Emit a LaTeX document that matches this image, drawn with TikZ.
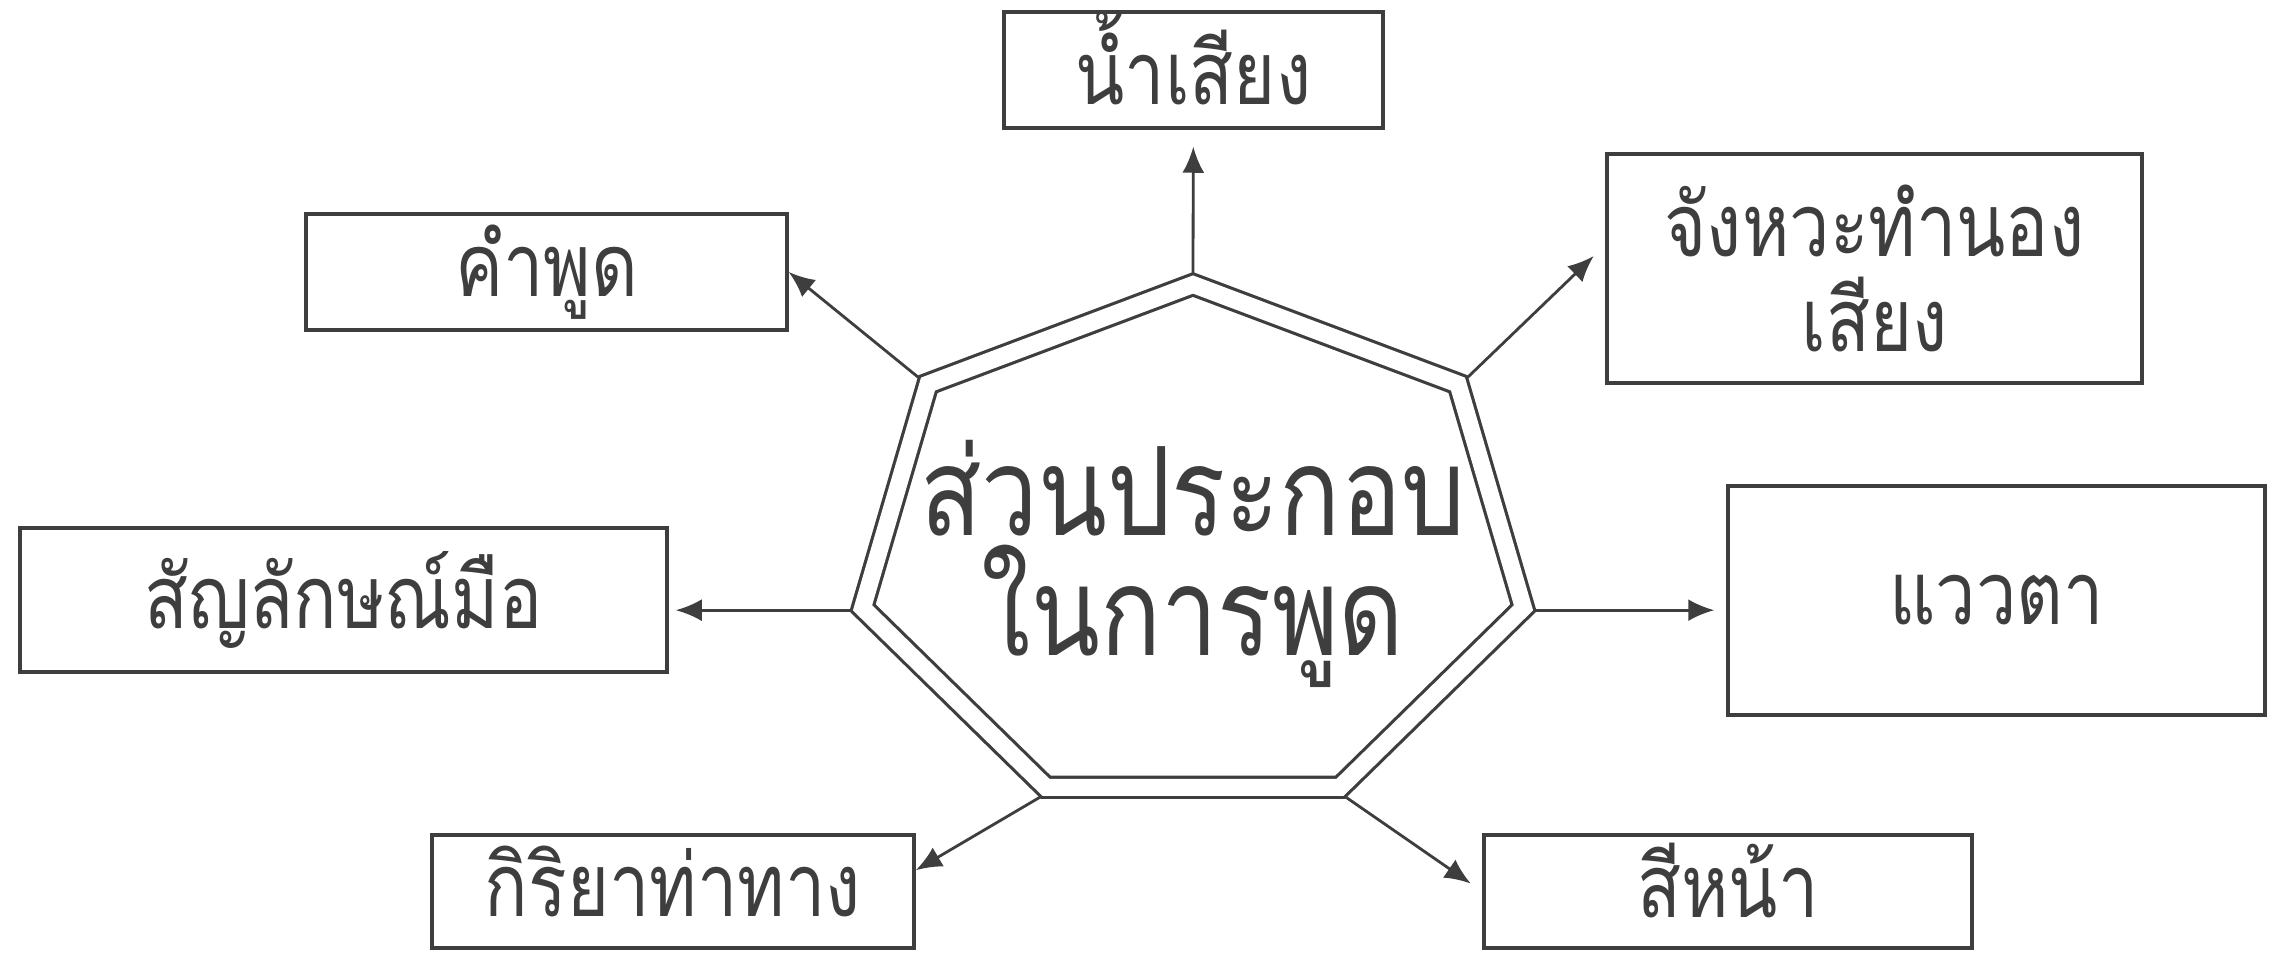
\documentclass[tikz,border=0pt]{standalone}
\usepackage{fontspec}
\newfontfamily\thaifont[Script=Thai, FakeStretch=0.82]{Loma}
\usetikzlibrary{arrows.meta}
\definecolor{inkgray}{RGB}{62,62,62}
\newcommand\liftby[2]{\raisebox{#1}[\height][\depth]{#2}}
\tikzset{
  partbox/.style={draw=inkgray, line width=1pt, inner sep=0pt, align=center,
    text=inkgray, font=\thaifont\fontsize{25}{30}\selectfont},
  link/.style={draw=inkgray, line width=0.8pt, -{Latex[length=2.6mm,width=2.2mm]}}
}

\begin{document}
\begin{tikzpicture}
\useasboundingbox (0,0) rectangle (22.82,-9.53);
% corners of the double heptagon
\foreach \i in {0,...,6}{
  \coordinate (h\i) at ({11.93+3.51*cos(90-\i*360/7)},{-5.49+2.75*sin(90-\i*360/7)});
  \coordinate (m\i) at ({11.93+3.39*cos(90-\i*360/7)},{-5.49+2.645*sin(90-\i*360/7)});
}
\draw[inkgray, line width=0.9pt, double=white, double distance=0.17cm]
  (m0) -- (m1) -- (m2) -- (m3) -- (m4) -- (m5) -- (m6) -- cycle;
\node[text=inkgray, align=center, font=\thaifont\fontsize{35}{34}\selectfont] (core) at (11.93,-5.64) {ส่วนประกอบ\\ในการพูด};

\node[partbox, minimum width=3.79cm, minimum height=1.16cm] (nam) at (11.935,-0.70) {\liftby{3.4pt}{น้ำเสียง}};
\node[partbox, minimum width=4.81cm, minimum height=1.16cm] (kham) at (5.465,-2.72) {คำพูด};
\node[partbox, minimum width=5.35cm, minimum height=2.29cm, font=\thaifont\fontsize{25}{27}\selectfont] (jang) at (18.745,-2.685) {จังหวะทำนอง\\เสียง};
\node[partbox, minimum width=6.47cm, minimum height=1.44cm] (sanyan) at (3.435,-6.00) {สัญลักษณ์มือ};
\node[partbox, minimum width=5.37cm, minimum height=2.29cm] (waew) at (19.965,-6.005) {แววตา};
\node[partbox, minimum width=4.82cm, minimum height=1.13cm] (kiriya) at (6.73,-8.915) {\liftby{3pt}{กิริยาท่าทาง}};
\node[partbox, minimum width=4.88cm, minimum height=1.13cm] (sina) at (17.28,-8.915) {\liftby{3pt}{สีหน้า}};

% arrows out of the corners
\draw[link, shorten >=0.17cm] (h0) -- (nam);
\draw[link, shorten >=0.16cm] (h1) -- (jang.175);
\draw[link, shorten >=0.12cm] (h2) -- (h2 -| waew.west);
\draw[link, shorten >=0.14cm] (h3) -- (sina.west);
\draw[link] (h4) -- (kiriya.5);
\draw[link, shorten >=0.07cm] (h5) -- (h5 -| sanyan.east);
\draw[link] (h6) -- (kham.east);
\end{tikzpicture}
\end{document}
